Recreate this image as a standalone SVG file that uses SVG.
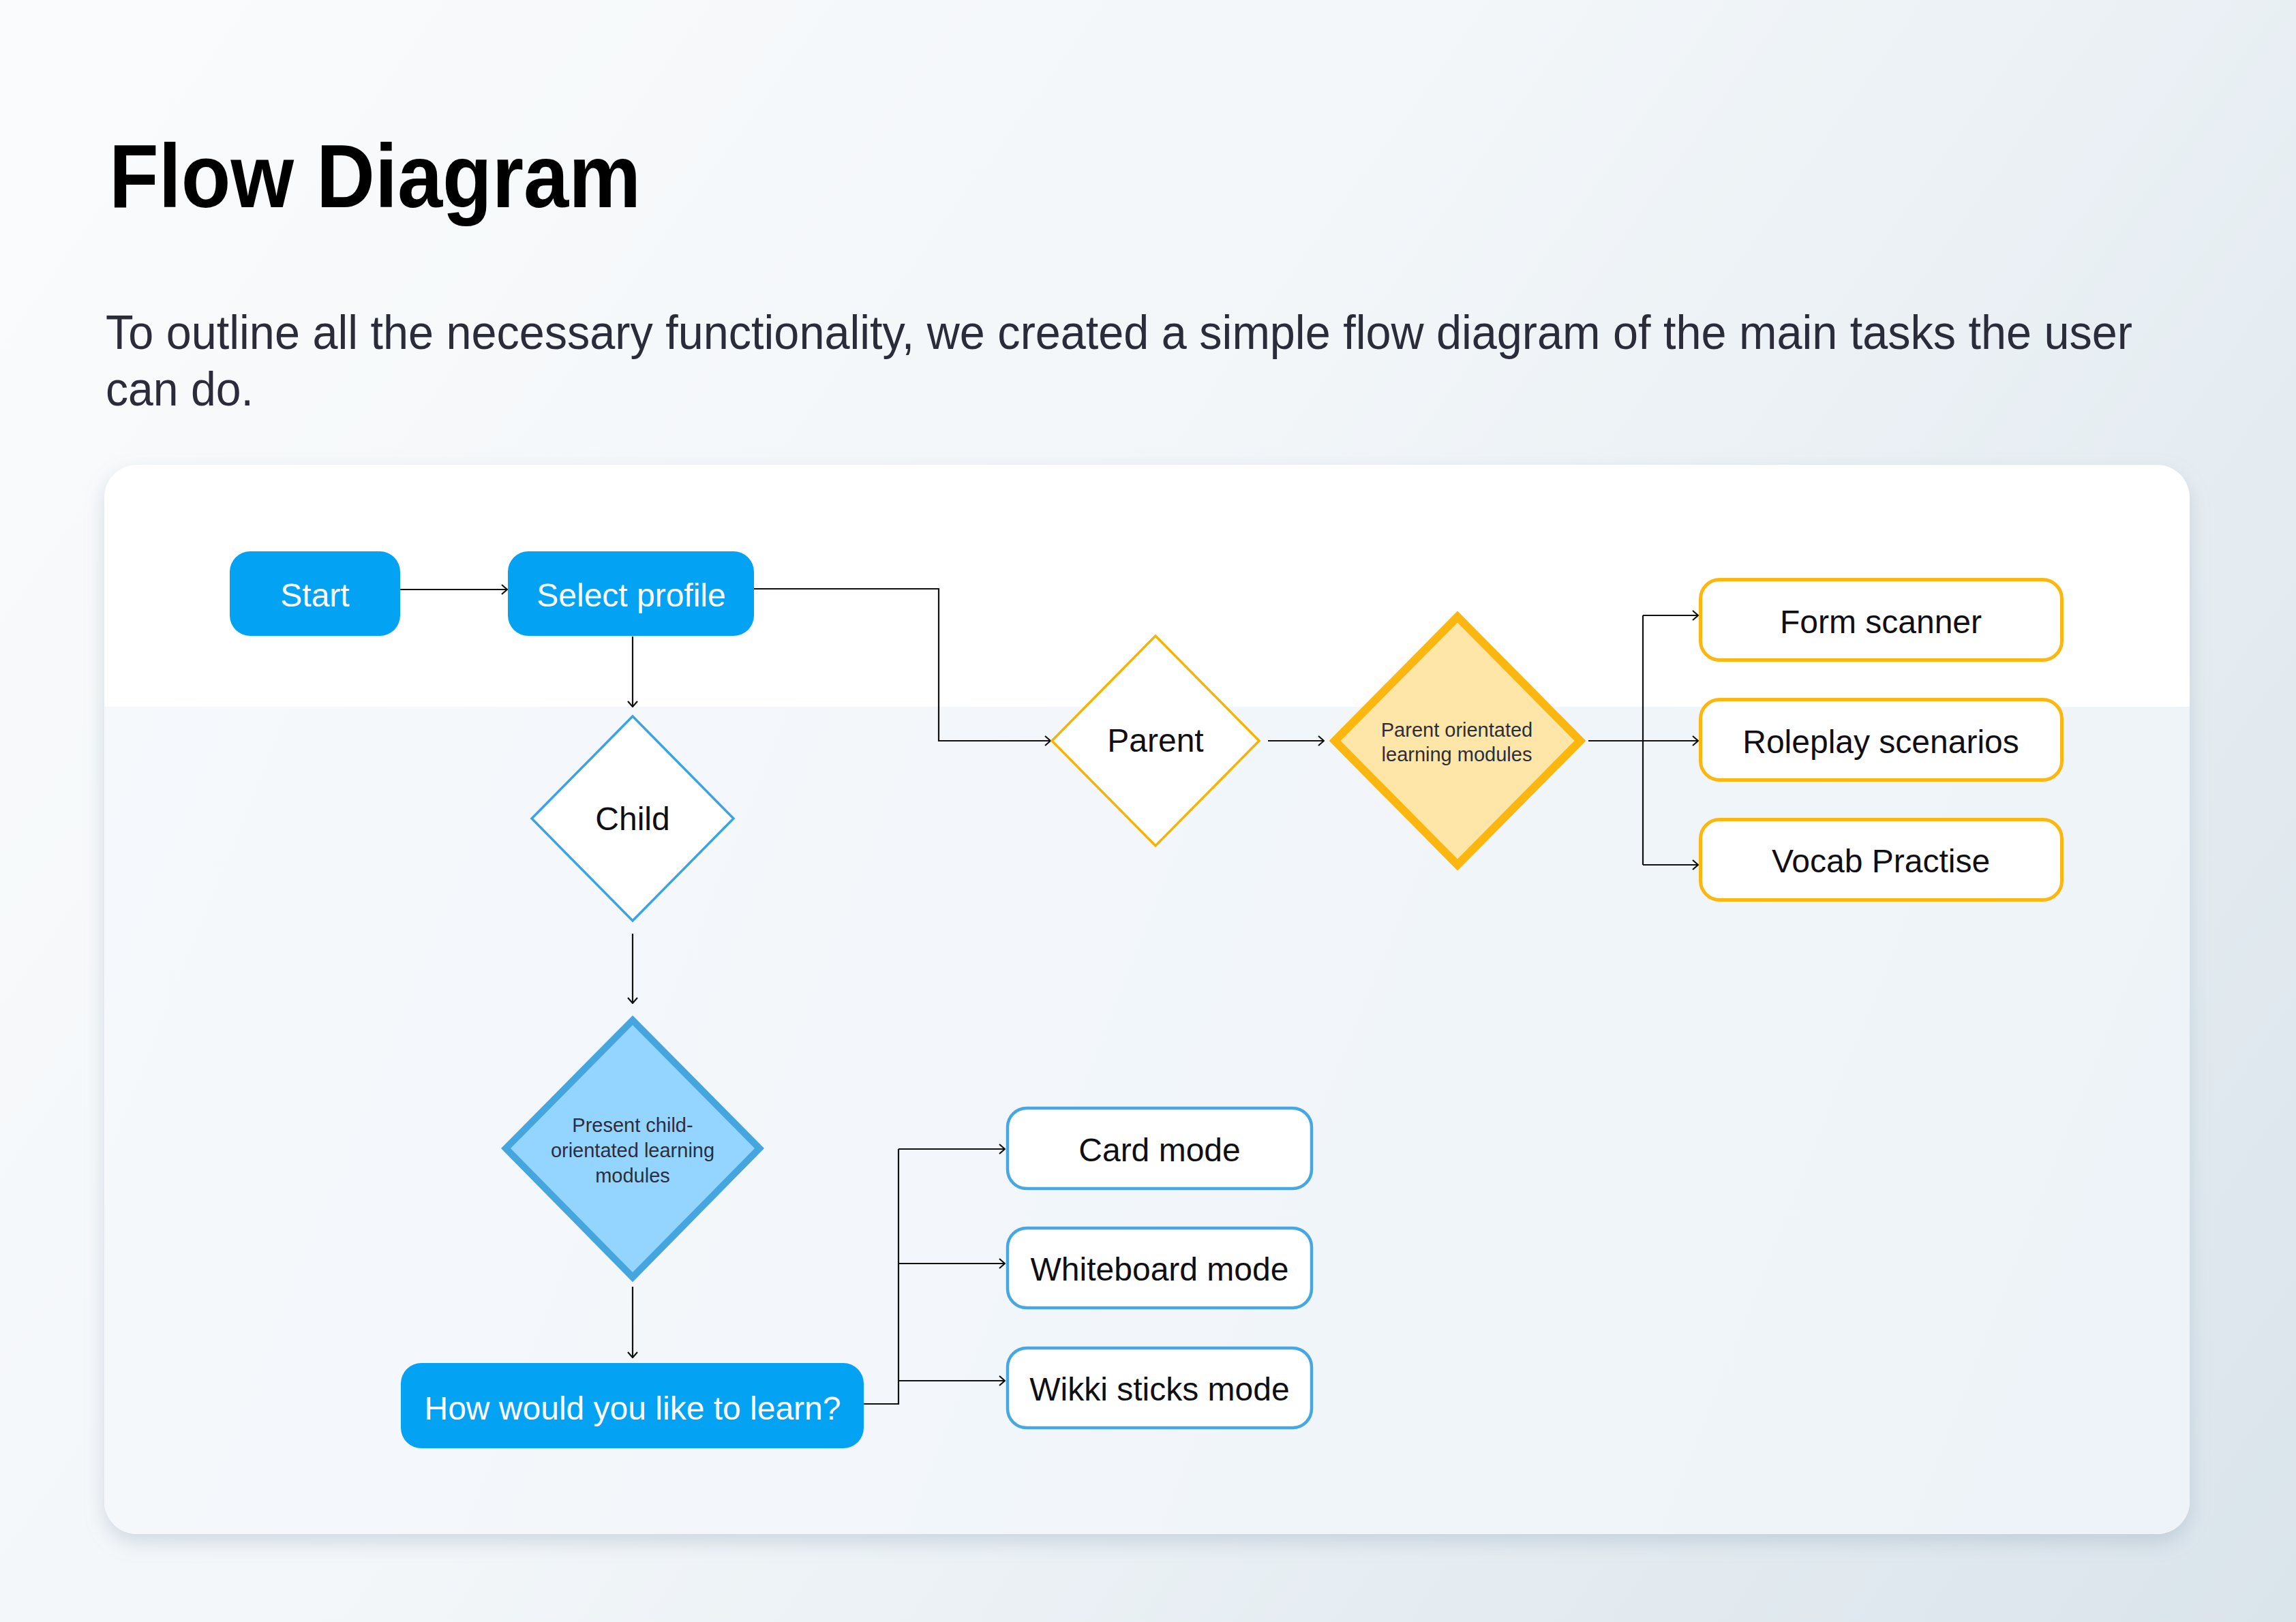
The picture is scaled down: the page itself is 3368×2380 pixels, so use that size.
<svg xmlns="http://www.w3.org/2000/svg" width="3368" height="2380" viewBox="0 0 3368 2380">
  <defs>
    <linearGradient id="bg" x1="0" y1="0" x2="3368" y2="2380" gradientUnits="userSpaceOnUse">
      <stop offset="0" stop-color="#fafbfc"/>
      <stop offset="0.45" stop-color="#f2f6f9"/>
      <stop offset="1" stop-color="#dae4eb"/>
    </linearGradient>
    <linearGradient id="cardLow" x1="152" y1="1037" x2="3212" y2="2252" gradientUnits="userSpaceOnUse">
      <stop offset="0" stop-color="#f6f9fc"/>
      <stop offset="1" stop-color="#edf3f8"/>
    </linearGradient>
    <clipPath id="cardClip">
      <rect x="153" y="682" width="3059" height="1569" rx="48"/>
    </clipPath>
    <filter id="shadow" x="-5%" y="-5%" width="110%" height="115%">
      <feDropShadow dx="0" dy="12" stdDeviation="14" flood-color="#8da2b5" flood-opacity="0.35"/>
    </filter>
    <marker id="arrow" viewBox="0 0 10 16" refX="9" refY="8" markerWidth="10" markerHeight="16" markerUnits="userSpaceOnUse" orient="auto">
      <path d="M1,1 L9,8 L1,15" fill="none" stroke="#111111" stroke-width="2.2"/>
    </marker>
    <style>
      .title { font-family: "Liberation Sans", Arial, sans-serif; font-weight: bold; font-size: 131px; fill: #000000; }
      .sub { font-family: "Liberation Sans", Arial, sans-serif; font-size: 70px; fill: #2b2c3a; }
      .lbl { font-family: "Liberation Sans", Arial, sans-serif; font-size: 48px; text-anchor: middle; }
      .white { fill: #ffffff; }
      .dark { fill: #0f0f14; }
      .small { font-family: "Liberation Sans", Arial, sans-serif; font-size: 29px; text-anchor: middle; fill: #2d2d3d; }
      .solid { fill: #03a2f3; }
      .bOut { fill: #ffffff; stroke: #47a7e1; stroke-width: 4.5; }
      .yOut { fill: #ffffff; stroke: #fbb70f; stroke-width: 5; }
      .conn { fill: none; stroke: #111111; stroke-width: 2.2; }
    </style>
  </defs>

  <rect x="0" y="0" width="3368" height="2380" fill="url(#bg)"/>

  <text class="title" x="160" y="304" textLength="780" lengthAdjust="spacingAndGlyphs">Flow Diagram</text>
  <text class="sub" x="155" y="512" textLength="2973" lengthAdjust="spacingAndGlyphs">To outline all the necessary functionality, we created a simple flow diagram of the main tasks the user</text>
  <text class="sub" x="155" y="595" textLength="217" lengthAdjust="spacingAndGlyphs">can do.</text>

  <g id="card">
    <rect x="153" y="682" width="3059" height="1569" rx="48" fill="#ffffff" filter="url(#shadow)"/>
    <rect x="153" y="1037" width="3059" height="1214" fill="url(#cardLow)" clip-path="url(#cardClip)"/>
  </g>

  <g id="connectors">
    <path class="conn" d="M587 865 H744" marker-end="url(#arrow)"/>
    <path class="conn" d="M1106 864 H1377 V1087 H1541" marker-end="url(#arrow)"/>
    <path class="conn" d="M928 934 V1037" marker-end="url(#arrow)"/>
    <path class="conn" d="M928 1370 V1472" marker-end="url(#arrow)"/>
    <path class="conn" d="M928 1888 V1992" marker-end="url(#arrow)"/>
    <path class="conn" d="M1267 2060 H1318 V1686"/>
    <path class="conn" d="M1318 1686 H1474" marker-end="url(#arrow)"/>
    <path class="conn" d="M1318 1854 H1474" marker-end="url(#arrow)"/>
    <path class="conn" d="M1318 2026 H1474" marker-end="url(#arrow)"/>
    <path class="conn" d="M1860 1087 H1942" marker-end="url(#arrow)"/>
    <path class="conn" d="M2330 1087 H2410"/>
    <path class="conn" d="M2410 903 V1269"/>
    <path class="conn" d="M2410 903 H2491" marker-end="url(#arrow)"/>
    <path class="conn" d="M2410 1087 H2491" marker-end="url(#arrow)"/>
    <path class="conn" d="M2410 1269 H2491" marker-end="url(#arrow)"/>
  </g>

  <g id="start">
    <rect class="solid" x="337" y="809" width="250" height="124" rx="30"/>
    <text class="lbl white" x="462" y="890">Start</text>
  </g>
  <g id="select-profile">
    <rect class="solid" x="745" y="809" width="361" height="124" rx="30"/>
    <text class="lbl white" x="926" y="890">Select profile</text>
  </g>
  <g id="child">
    <polygon points="928,1051 1076,1201 928,1351 780,1201" fill="#ffffff" stroke="#3aa3e3" stroke-width="3.5"/>
    <text class="lbl dark" x="928" y="1218">Child</text>
  </g>
  <g id="present-child-modules">
    <polygon points="928,1497 1114,1685 928,1874 742,1685" fill="#93d5fe" stroke="#45a5df" stroke-width="10"/>
    <text class="small" x="928" y="1661">Present child-</text>
    <text class="small" x="928" y="1698">orientated learning</text>
    <text class="small" x="928" y="1735">modules</text>
  </g>
  <g id="how-learn">
    <rect class="solid" x="588" y="2000" width="679" height="125" rx="30"/>
    <text class="lbl white" x="928" y="2083">How would you like to learn?</text>
  </g>
  <g id="card-mode">
    <rect class="bOut" x="1478" y="1626" width="446" height="118" rx="28"/>
    <text class="lbl dark" x="1701" y="1704">Card mode</text>
  </g>
  <g id="whiteboard-mode">
    <rect class="bOut" x="1478" y="1802" width="446" height="117" rx="28"/>
    <text class="lbl dark" x="1701" y="1879">Whiteboard mode</text>
  </g>
  <g id="wikki-sticks-mode">
    <rect class="bOut" x="1478" y="1978" width="446" height="117" rx="28"/>
    <text class="lbl dark" x="1701" y="2055">Wikki sticks mode</text>
  </g>
  <g id="parent">
    <polygon points="1695,933 1847,1087 1695,1241 1543,1087" fill="#ffffff" stroke="#f6b300" stroke-width="3.5"/>
    <text class="lbl dark" x="1695" y="1103">Parent</text>
  </g>
  <g id="parent-modules">
    <polygon points="2138,905 2318,1087 2138,1269 1958,1087" fill="#fde6a7" stroke="#fbb70f" stroke-width="12"/>
    <text class="small" x="2137" y="1081">Parent orientated</text>
    <text class="small" x="2137" y="1117">learning modules</text>
  </g>
  <g id="form-scanner">
    <rect class="yOut" x="2494.5" y="850.5" width="530" height="118" rx="28"/>
    <text class="lbl dark" x="2759" y="929">Form scanner</text>
  </g>
  <g id="roleplay-scenarios">
    <rect class="yOut" x="2494.5" y="1026.5" width="530" height="118" rx="28"/>
    <text class="lbl dark" x="2759" y="1105">Roleplay scenarios</text>
  </g>
  <g id="vocab-practise">
    <rect class="yOut" x="2494.5" y="1202.5" width="530" height="118" rx="28"/>
    <text class="lbl dark" x="2759" y="1280">Vocab Practise</text>
  </g>
</svg>
